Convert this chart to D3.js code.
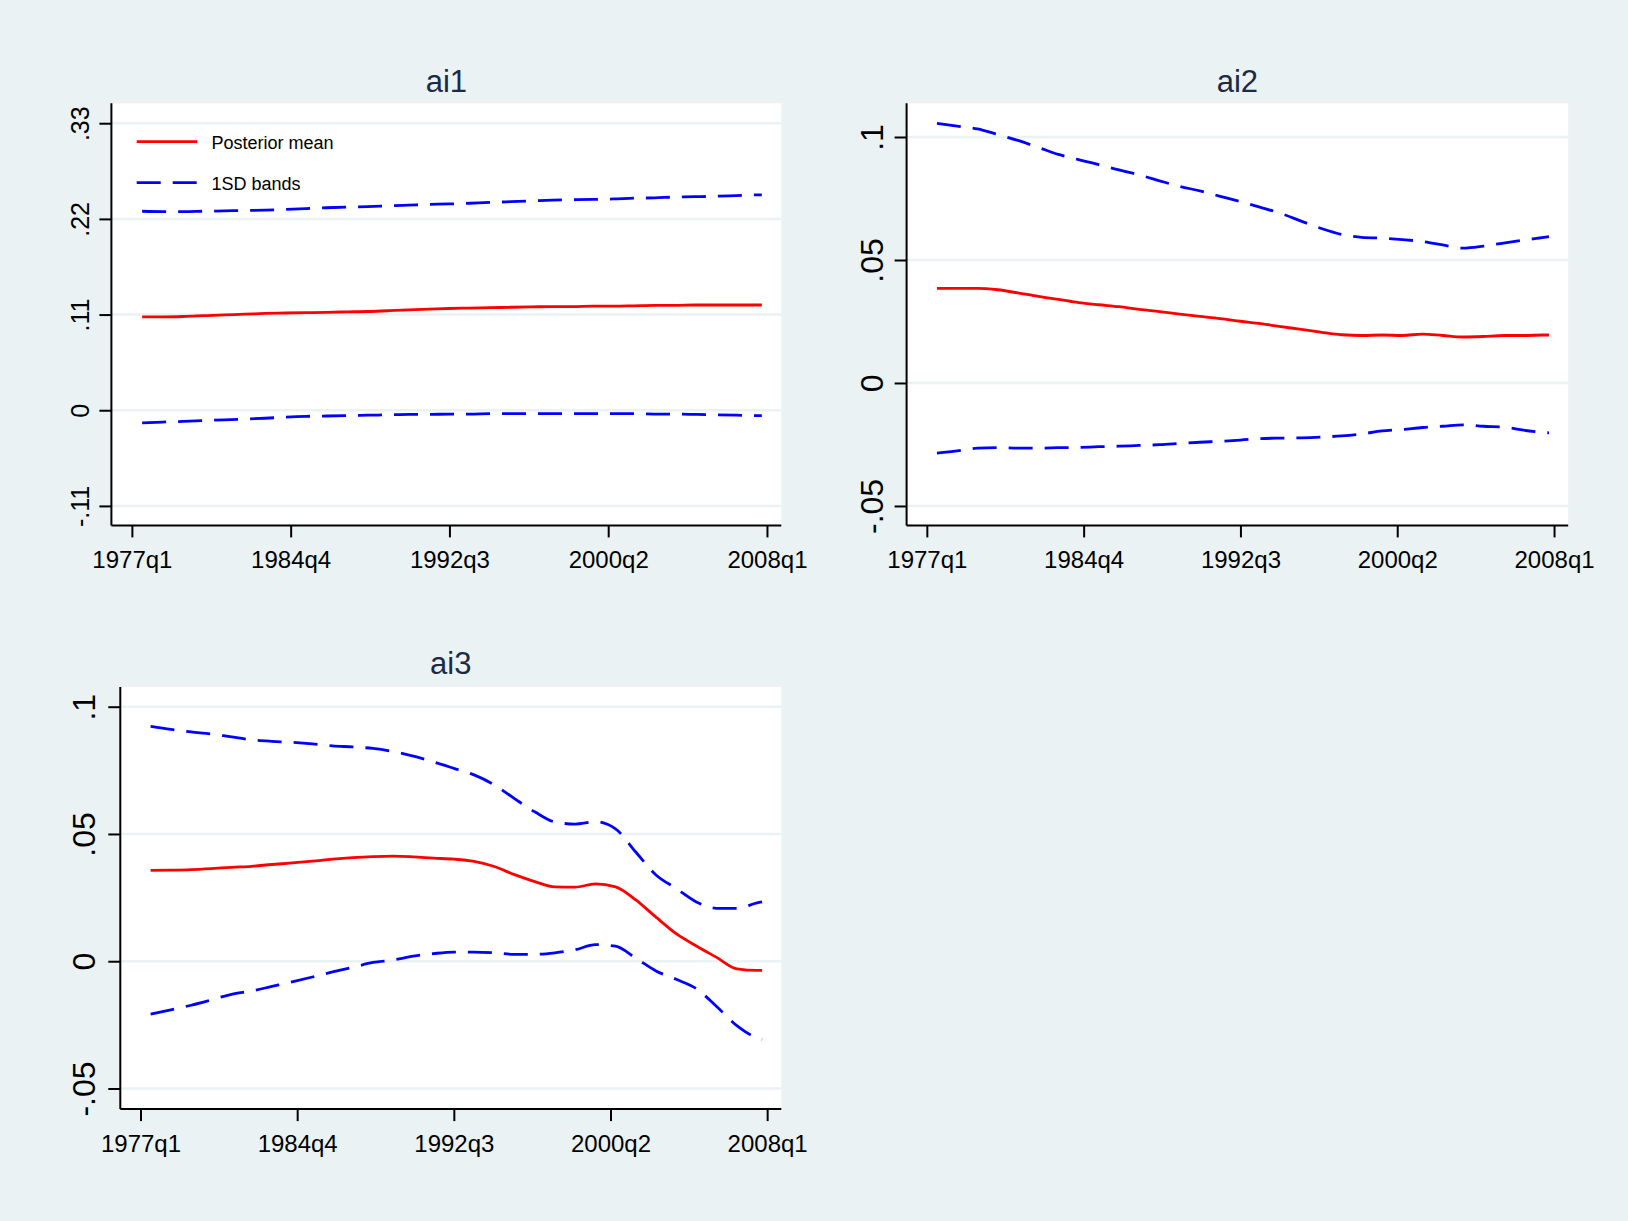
<!DOCTYPE html>
<html>
<head>
<meta charset="utf-8">
<script src="https://cdn.jsdelivr.net/npm/d3@7"></script>
<style>
  body { margin: 0; background: #eaf2f3; }
  svg { display: block; font-family: "Liberation Sans", Arial, sans-serif; }
</style>
</head>
<body>
<div id="chart"></div>
<script>
var quarters = ["1977q3","1978q3","1979q3","1980q3","1981q3","1982q3","1983q3","1984q3",
  "1985q3","1986q3","1987q3","1988q3","1989q3","1990q3","1991q3","1992q3",
  "1993q3","1994q3","1995q3","1996q3","1997q3","1998q3","1999q3","2000q3",
  "2001q3","2002q3","2003q3","2004q3","2005q3","2006q3","2007q3","2007q4"];

var xTickLabels = ["1977q1","1984q4","1992q3","2000q2","2008q1"];

// ai1
var ai1Mean = [.1074,.1074,.1078,.1087,.1096,.1104,.1113,.1118,.1122,.1126,.1131,.1135,.1144,.1153,.1162,.1170,
  .1175,.1179,.1184,.1188,.1192,.1192,.1197,.1197,.1201,.1206,.1206,.1210,.1210,.1210,.1210,.1210];
var ai1Upper = [.2288,.2284,.2284,.2288,.2292,.2297,.2301,.2310,.2319,.2328,.2336,.2341,.2350,.2358,.2367,.2372,
  .2380,.2389,.2398,.2407,.2416,.2420,.2424,.2429,.2438,.2442,.2451,.2455,.2460,.2468,.2477,.2477];
var ai1Lower = [-.0145,-.0136,-.0128,-.0119,-.0110,-.0101,-.0092,-.0079,-.0070,-.0066,-.0062,-.0057,-.0053,-.0048,-.0048,-.0044,
  -.0044,-.0040,-.0040,-.0040,-.0040,-.0040,-.0040,-.0040,-.0040,-.0044,-.0044,-.0048,-.0053,-.0057,-.0062,-.0062];
var ai1Ticks = [-.11, 0, .11, .22, .33];
var ai1TickLabels = ["-.11","0",".11",".22",".33"];

// ai2
var ai2Mean = [.0385,.0385,.0385,.0379,.0366,.0352,.0340,.0327,.0318,.0310,.0299,.0290,.0280,.0271,.0262,.0251,
  .0241,.0229,.0218,.0206,.0196,.0193,.0195,.0193,.0199,.0193,.0187,.0189,.0193,.0193,.0195,.0195];
var ai2Upper = [.1055,.1044,.1033,.1010,.0986,.0958,.0929,.0908,.0888,.0866,.0846,.0822,.0799,.0781,.0759,.0737,
  .0714,.0689,.0658,.0628,.0604,.0592,.0589,.0583,.0575,.0561,.0548,.0556,.0569,.0581,.0592,.0595];
var ai2Lower = [-.0285,-.0276,-.0265,-.0263,-.0265,-.0265,-.0263,-.0262,-.0259,-.0257,-.0254,-.0251,-.0246,-.0241,-.0237,-.0232,
  -.0226,-.0224,-.0223,-.0220,-.0215,-.0207,-.0195,-.0189,-.0181,-.0176,-.0170,-.0176,-.0179,-.0192,-.0201,-.0203];
var ai2Ticks = [-.05, 0, .05, .1];
var ai2TickLabels = ["-.05","0",".05",".1"];

// ai3
var ai3Mean = [.0357,.0358,.0360,.0364,.0369,.0373,.0380,.0386,.0393,.0401,.0407,.0411,.0413,.0410,.0405,.0401,
  .0392,.0372,.0340,.0313,.0292,.0291,.0304,.0292,.0241,.0173,.0108,.0060,.0015,-.0030,-.0036,-.0036];
var ai3Upper = [.0923,.0911,.0901,.0893,.0881,.0870,.0864,.0860,.0854,.0846,.0842,.0836,.0824,.0806,.0783,.0758,
  .0732,.0693,.0639,.0587,.0547,.0539,.0548,.0520,.0429,.0339,.0286,.0233,.0208,.0208,.0229,.0233];
var ai3Lower = [-.0208,-.0191,-.0173,-.0152,-.0130,-.0117,-.0099,-.0081,-.0062,-.0042,-.0024,-.0005,.0005,.0020,.0030,.0036,
  .0036,.0033,.0027,.0027,.0033,.0045,.0065,.0059,.0012,-.0038,-.0071,-.0108,-.0178,-.0253,-.0301,-.0307];
var ai3Ticks = [-.05, 0, .05, .1];
var ai3TickLabels = ["-.05","0",".05",".1"];

var legendLabels = ["Posterior mean", "1SD bands"];

// quarter label -> Stata quarterly index
function tq(s) {
  var p = s.split("q");
  return (+p[0] - 1960) * 4 + (+p[1] - 1);
}

var W = 1628, H = 1221;
var svg = d3.select("#chart").append("svg")
  .attr("width", W).attr("height", H);
svg.append("rect").attr("width", W).attr("height", H).attr("fill", "#eaf2f3");

var panels = [
  { title: "ai1", mean: ai1Mean, upper: ai1Upper, lower: ai1Lower, ticks: ai1Ticks, tickLabels: ai1TickLabels,
    left: 111.4, right: 781.3, top: 103.3, bottom: 525.4, ydom: [-.1324, .3529], yfont: 25, yoff: 22, titleY: 92, legend: true },
  { title: "ai2", mean: ai2Mean, upper: ai2Upper, lower: ai2Lower, ticks: ai2Ticks, tickLabels: ai2TickLabels,
    left: 906.6, right: 1568.2, top: 103.3, bottom: 525.4, ydom: [-.0579, .1137], yfont: 32, yoff: 24, titleY: 92 },
  { title: "ai3", mean: ai3Mean, upper: ai3Upper, lower: ai3Lower, ticks: ai3Ticks, tickLabels: ai3TickLabels,
    left: 120.3, right: 781.3, top: 687.1, bottom: 1109.1, ydom: [-.0581, .1077], yfont: 32, yoff: 25, titleY: 674 }
];

var xDomain = [64, 194.8];

panels.forEach(function (p) {
  var x = d3.scaleLinear().domain(xDomain).range([p.left, p.right]);
  var y = d3.scaleLinear().domain(p.ydom).range([p.bottom, p.top]);

  var g = svg.append("g");

  // plot region
  g.append("rect")
    .attr("x", p.left).attr("y", p.top)
    .attr("width", p.right - p.left).attr("height", p.bottom - p.top)
    .attr("fill", "#ffffff");

  // grid
  g.selectAll(".grid").data(p.ticks).enter().append("line")
    .attr("x1", p.left).attr("x2", p.right)
    .attr("y1", function (d) { return y(d); }).attr("y2", function (d) { return y(d); })
    .attr("stroke", "#eaf2f3").attr("stroke-width", 2.5);

  // y axis
  var yAxis = d3.axisLeft(y).tickValues(p.ticks).tickSize(12)
    .tickFormat(function (d, i) { return p.tickLabels[i]; });
  var ya = g.append("g").attr("transform", "translate(" + p.left + ",0)").call(yAxis);
  ya.select(".domain").attr("stroke", "#000").attr("stroke-width", 2)
    .attr("d", "M0," + p.top + "V" + p.bottom);
  ya.selectAll(".tick line").attr("stroke", "#000").attr("stroke-width", 2);
  ya.selectAll(".tick text")
    .attr("font-size", p.yfont).attr("fill", "#000")
    .attr("text-anchor", "middle")
    .attr("x", 0).attr("y", 0).attr("dy", null)
    .attr("transform", "translate(" + (-p.yoff) + ",0) rotate(-90)");

  // x axis
  var xAxis = d3.axisBottom(x).tickValues(xTickLabels.map(tq)).tickSize(12).tickPadding(14)
    .tickFormat(function (d, i) { return xTickLabels[i]; });
  var xa = g.append("g").attr("transform", "translate(0," + p.bottom + ")").call(xAxis);
  xa.select(".domain").attr("stroke", "#000").attr("stroke-width", 2)
    .attr("d", "M" + p.left + ",0H" + p.right);
  xa.selectAll(".tick line").attr("stroke", "#000").attr("stroke-width", 2);
  xa.selectAll(".tick text").attr("font-size", 24).attr("fill", "#000");

  // lines
  var line = function (vals) {
    return d3.line()
      .x(function (d, i) { return x(tq(quarters[i])); })
      .y(function (d) { return y(d); })
      .curve(d3.curveMonotoneX)(vals);
  };
  [p.upper, p.lower].forEach(function (vals) {
    g.append("path").attr("d", line(vals))
      .attr("fill", "none").attr("stroke", "#0000ff").attr("stroke-width", 2.8)
      .attr("stroke-dasharray", "24,12");
  });
  g.append("path").attr("d", line(p.mean))
    .attr("fill", "none").attr("stroke", "#ff0000").attr("stroke-width", 2.8);

  // title
  g.append("text")
    .attr("x", (p.left + p.right) / 2).attr("y", p.titleY)
    .attr("text-anchor", "middle").attr("font-size", 31).attr("fill", "#1c2a48")
    .text(p.title);

  if (p.legend) {
    var lg = g.append("g");
    var rows = [
      { y: 141.7, color: "#ff0000", dash: null },
      { y: 182.7, color: "#0000ff", dash: "24,12" }
    ];
    rows.forEach(function (r, i) {
      lg.append("line")
        .attr("x1", 136.7).attr("x2", 197.3).attr("y1", r.y).attr("y2", r.y)
        .attr("stroke", r.color).attr("stroke-width", 2.8)
        .attr("stroke-dasharray", r.dash);
      lg.append("text")
        .attr("x", 211.5).attr("y", r.y + 7)
        .attr("font-size", 18).attr("fill", "#000")
        .text(legendLabels[i]);
    });
  }
});
</script>
</body>
</html>
